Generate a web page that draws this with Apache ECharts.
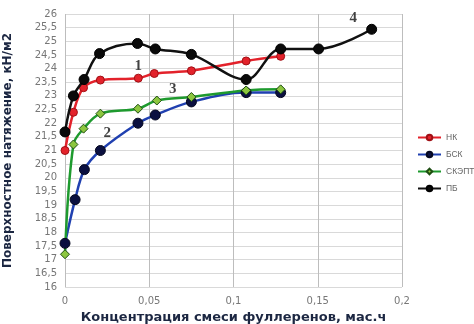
<!DOCTYPE html>
<html><head><meta charset="utf-8">
<script src="https://cdn.jsdelivr.net/npm/echarts@6/dist/echarts.min.js"></script>
<style>html,body{margin:0;padding:0;background:#fff}#c{width:474px;height:324px}</style>
</head><body><div id="c"></div>
<script>
const seriesNames = ['НК', 'БСК', 'СКЭПТ', 'ПБ'];
const xNK = [0, 0.005, 0.011, 0.021, 0.0435, 0.053, 0.075, 0.1075, 0.128];
const yNK = [21.0, 22.4, 23.3, 23.58, 23.65, 23.82, 23.92, 24.28, 24.45];
const xBSK = [0, 0.006, 0.0115, 0.021, 0.0433, 0.0536, 0.075, 0.1075, 0.128];
const yBSK = [17.6, 19.2, 20.3, 21.0, 22.0, 22.3, 22.78, 23.12, 23.12];
const xSKEPT = [0, 0.005, 0.011, 0.021, 0.0433, 0.0545, 0.075, 0.1075, 0.128];
const ySKEPT = [17.2, 21.22, 21.8, 22.35, 22.53, 22.83, 22.96, 23.2, 23.24];
const xPB = [0, 0.005, 0.0113, 0.0205, 0.043, 0.0536, 0.075, 0.1075, 0.128, 0.1505, 0.182];
const yPB = [21.68, 23.0, 23.6, 24.55, 24.92, 24.72, 24.52, 23.6, 24.72, 24.72, 25.44];
const curveLabels = ['1', '2', '3', '4'];
const curveLabelPos = [[0.0435, 24.1], [0.025, 21.62], [0.064, 23.25], [0.171, 25.84]];

const pairs = (xs, ys) => xs.map((x, i) => [x, ys[i]]);
const chart = echarts.init(document.getElementById('c'));
const styles = [
  {line: '#e3222b', fill: '#e3222b', border: '#a01015', sym: 'circle', size: 8},
  {line: '#2040b0', fill: '#0b1040', border: '#05081e', sym: 'circle', size: 10},
  {line: '#1e9a2e', fill: '#8cc63f', border: '#1d4d12', sym: 'diamond', size: 9},
  {line: '#111111', fill: '#0a0a0a', border: '#000000', sym: 'circle', size: 10}
];
const datas = [pairs(xNK, yNK), pairs(xBSK, yBSK), pairs(xSKEPT, ySKEPT), pairs(xPB, yPB)];
const fmt = v => String(Math.round(v * 1000) / 1000).replace('.', ',');
const option = {
  animation: false,
  grid: {left: 65, right: 72, top: 14, bottom: 37, containLabel: false, outerBoundsMode: 'none'},
  legend: {
    orient: 'vertical', left: 412, top: 128, itemGap: 8, itemWidth: 23, itemHeight: 7,
    textStyle: {fontFamily: 'Liberation Sans', fontSize: 8.5, color: '#666'},
    data: seriesNames
  },
  xAxis: {
    type: 'value', min: 0, max: 0.2, interval: 0.05,
    name: 'Концентрация смеси фуллеренов, мас.ч', nameLocation: 'middle', nameGap: 24,
    nameTextStyle: {fontFamily: 'DejaVu Sans', fontWeight: 'bold', fontSize: 13, color: '#1c2742'},
    axisLine: {show: false}, axisTick: {show: false},
    axisLabel: {formatter: fmt, fontFamily: 'DejaVu Sans', fontSize: 10, color: '#777', margin: 9},
    splitLine: {lineStyle: {color: '#bdbdbd', width: 1}}
  },
  yAxis: {
    type: 'value', min: 16, max: 26, interval: 0.5,
    name: 'Поверхностное натяжение, кН/м2', nameLocation: 'middle', nameGap: 51,
    nameTextStyle: {fontFamily: 'DejaVu Sans', fontWeight: 'bold', fontSize: 12, color: '#1c2742'},
    axisLine: {show: false}, axisTick: {show: false},
    axisLabel: {formatter: fmt, fontFamily: 'DejaVu Sans', fontSize: 10, color: '#777', margin: 8},
    splitLine: {lineStyle: {color: '#d9d9d9', width: 1}}
  },
  series: seriesNames.map((n, i) => ({
    name: n, type: 'line', data: datas[i], smooth: 0.35,
    symbol: styles[i].sym, symbolSize: styles[i].size,
    lineStyle: {color: styles[i].line, width: 2.5},
    itemStyle: {color: styles[i].fill, borderColor: styles[i].border, borderWidth: 1},
    z: i === 3 ? 3 : 2
  })).concat([{
    type: 'scatter', data: curveLabelPos, symbolSize: 0, silent: true,
    label: {show: true, position: 'inside', formatter: p => curveLabels[p.dataIndex],
      fontFamily: 'Liberation Serif', fontWeight: 'bold', fontSize: 15, color: '#111'},
    z: 5
  }])
};
chart.setOption(option);
</script></body></html>
